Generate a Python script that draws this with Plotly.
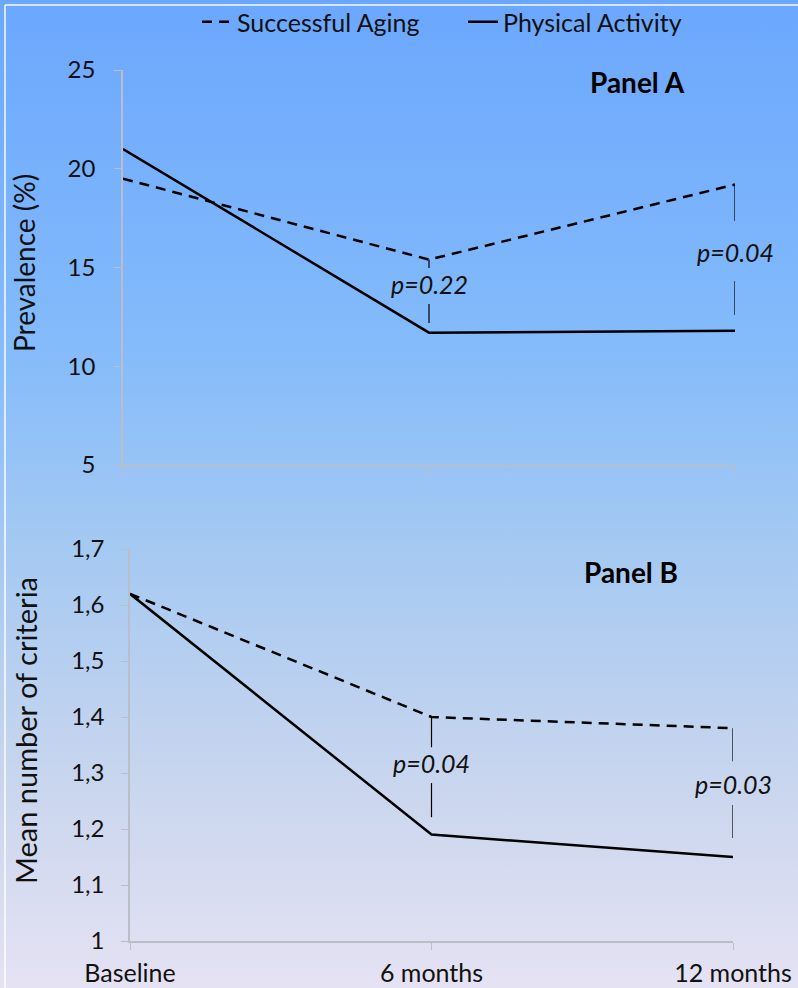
import base64
import plotly.graph_objects as go

# ---------------- data ----------------
categories = ["Baseline", "6 months", "12 months"]

prev_successful_aging = [19.5, 15.4, 19.2]
prev_physical_activity = [21.0, 11.7, 11.8]

crit_successful_aging = [1.62, 1.40, 1.38]
crit_physical_activity = [1.62, 1.19, 1.15]

p_labels_a = ["p=0.22", "p=0.04"]
p_labels_b = ["p=0.04", "p=0.03"]

yticks_a = [5, 10, 15, 20, 25]
yticks_b = [1.0, 1.1, 1.2, 1.3, 1.4, 1.5, 1.6, 1.7]
yticklabels_b = ["1", "1,1", "1,2", "1,3", "1,4", "1,5", "1,6", "1,7"]

series_names = ["Successful Aging", "Physical Activity"]

# ---------------- style ----------------
FONT = "Lato"
W, H = 798, 988
DASH = "10px,7px"
LW = 2.5
AXIS_COL = "#b9bec8"

fig = go.Figure()

fig.add_trace(go.Scatter(x=categories, y=prev_successful_aging, mode="lines",
                         name=series_names[0], line=dict(color="black", width=LW, dash=DASH),
                         xaxis="x", yaxis="y"))
fig.add_trace(go.Scatter(x=categories, y=prev_physical_activity, mode="lines",
                         name=series_names[1], line=dict(color="black", width=LW),
                         xaxis="x", yaxis="y"))
fig.add_trace(go.Scatter(x=categories, y=crit_successful_aging, mode="lines",
                         name=series_names[0], showlegend=False,
                         line=dict(color="black", width=LW, dash=DASH),
                         xaxis="x2", yaxis="y2"))
fig.add_trace(go.Scatter(x=categories, y=crit_physical_activity, mode="lines",
                         name=series_names[1], showlegend=False,
                         line=dict(color="black", width=LW),
                         xaxis="x2", yaxis="y2"))

# background gradient as an svg image
svg = f'''<svg xmlns="http://www.w3.org/2000/svg" width="{W}" height="{H}" preserveAspectRatio="none">
<defs><linearGradient id="g" x1="0" y1="0" x2="0" y2="1">
<stop offset="0" stop-color="#6ba7fd"/>
<stop offset="0.35" stop-color="#84bbfb"/>
<stop offset="0.55" stop-color="#a4c9f2"/>
<stop offset="0.8" stop-color="#cad6ee"/>
<stop offset="1" stop-color="#e5e2f3"/>
</linearGradient></defs>
<rect x="0" y="0" width="{W}" height="{H}" fill="url(#g)"/>
</svg>'''
src = "data:image/svg+xml;base64," + base64.b64encode(svg.encode()).decode()

def px_x(px):
    return px / W

def px_y(py):
    return 1 - py / H

common_ticks = dict(ticks="outside", ticklen=7, tickcolor=AXIS_COL, tickwidth=1,
                    showline=True, linecolor=AXIS_COL, linewidth=1.5,
                    showgrid=False, zeroline=False, automargin=False)

fig.update_layout(
    width=W, height=H,
    margin=dict(l=0, r=0, t=0, b=0, pad=0, autoexpand=False),
    paper_bgcolor="#9fc6f4",
    plot_bgcolor="rgba(0,0,0,0)",
    font=dict(family=FONT, size=24, color="#111111"),
    images=[dict(source=src, xref="paper", yref="paper", x=0, y=1,
                 sizex=1, sizey=1, sizing="stretch", layer="below",
                 xanchor="left", yanchor="top")],
    legend=dict(orientation="h", x=px_x(197), xanchor="left", y=px_y(22), yanchor="middle",
                bgcolor="rgba(0,0,0,0)", font=dict(size=25, family=FONT),
                itemwidth=30, traceorder="normal",
                entrywidth=221, entrywidthmode="pixels"),
    xaxis=dict(domain=[px_x(123), px_x(735)], range=[0, 2], anchor="y",
               showticklabels=False, **common_ticks),
    yaxis=dict(domain=[px_y(465), px_y(70)], range=[5, 25], anchor="x",
               tickvals=yticks_a, ticklabelstandoff=14,
               tickfont=dict(size=24), **common_ticks),
    xaxis2=dict(domain=[px_x(130), px_x(733)], range=[0, 2], anchor="y2",
                tickfont=dict(size=25), ticklabelstandoff=2, **common_ticks),
    yaxis2=dict(domain=[px_y(941), px_y(549)], range=[1, 1.7], anchor="x2",
                tickvals=yticks_b, ticktext=yticklabels_b, ticklabelstandoff=12,
                tickfont=dict(size=24), **common_ticks),
)

ctr = dict(xanchor="center", yanchor="middle", showarrow=False)
annotations = [
    dict(text="<b>Panel A</b>", x=px_x(637), y=px_y(82), xref="paper", yref="paper",
         font=dict(size=28, family=FONT, color="black"), **ctr),
    dict(text="<b>Panel B</b>", x=px_x(631), y=px_y(572), xref="paper", yref="paper",
         font=dict(size=28, family=FONT, color="black"), **ctr),
    dict(text="Prevalence (%)", x=px_x(24), y=px_y(263), xref="paper", yref="paper",
         textangle=-90, font=dict(size=28, family=FONT), **ctr),
    dict(text="Mean number of criteria", x=px_x(25), y=px_y(731), xref="paper", yref="paper",
         textangle=-90, font=dict(size=29, family=FONT), **ctr),
    # p-values panel A
    dict(text=f"<i>{p_labels_a[0]}</i>", x=1, y=14.16, xref="x", yref="y",
         font=dict(size=25, family=FONT), **ctr),
    dict(text=f"<i>{p_labels_a[1]}</i>", x=2, y=15.78, xref="x", yref="y",
         font=dict(size=25, family=FONT), **ctr),
    # p-values panel B
    dict(text=f"<i>{p_labels_b[0]}</i>", x=1, y=1.318, xref="x2", yref="y2",
         font=dict(size=25, family=FONT), **ctr),
    dict(text=f"<i>{p_labels_b[1]}</i>", x=2, y=1.280, xref="x2", yref="y2",
         font=dict(size=25, family=FONT), **ctr),
]
fig.update_layout(annotations=annotations)

seg = dict(color="black", width=1.2)
shapes = [
    # frame
    dict(type="line", xref="paper", yref="paper", x0=px_x(5), x1=px_x(5), y0=0, y1=px_y(5),
         line=dict(color="rgba(255,255,255,0.7)", width=2)),
    dict(type="line", xref="paper", yref="paper", x0=px_x(5), x1=1, y0=px_y(5), y1=px_y(5),
         line=dict(color="rgba(255,255,255,0.7)", width=2)),
    # panel A, 6 months
    dict(type="line", xref="x", yref="y", x0=1, x1=1, y0=prev_successful_aging[1], y1=14.97, line=seg),
    dict(type="line", xref="x", yref="y", x0=1, x1=1, y0=13.15, y1=12.19, line=seg),
    # panel A, 12 months
    dict(type="line", xref="x", yref="y", x0=2, x1=2, y0=prev_successful_aging[2], y1=17.35, line=seg),
    dict(type="line", xref="x", yref="y", x0=2, x1=2, y0=14.32, y1=12.6, line=seg),
    # panel B, 6 months
    dict(type="line", xref="x2", yref="y2", x0=1, x1=1, y0=crit_successful_aging[1], y1=1.346, line=seg),
    dict(type="line", xref="x2", yref="y2", x0=1, x1=1, y0=1.282, y1=1.221, line=seg),
    # panel B, 12 months
    dict(type="line", xref="x2", yref="y2", x0=2, x1=2, y0=crit_successful_aging[2], y1=1.321, line=seg),
    dict(type="line", xref="x2", yref="y2", x0=2, x1=2, y0=1.243, y1=1.184, line=seg),
]
fig.update_layout(shapes=shapes)

fig.write_html("out.html", config={"displayModeBar": False},
               post_script="document.body.style.margin='0';document.body.style.padding='0';")
